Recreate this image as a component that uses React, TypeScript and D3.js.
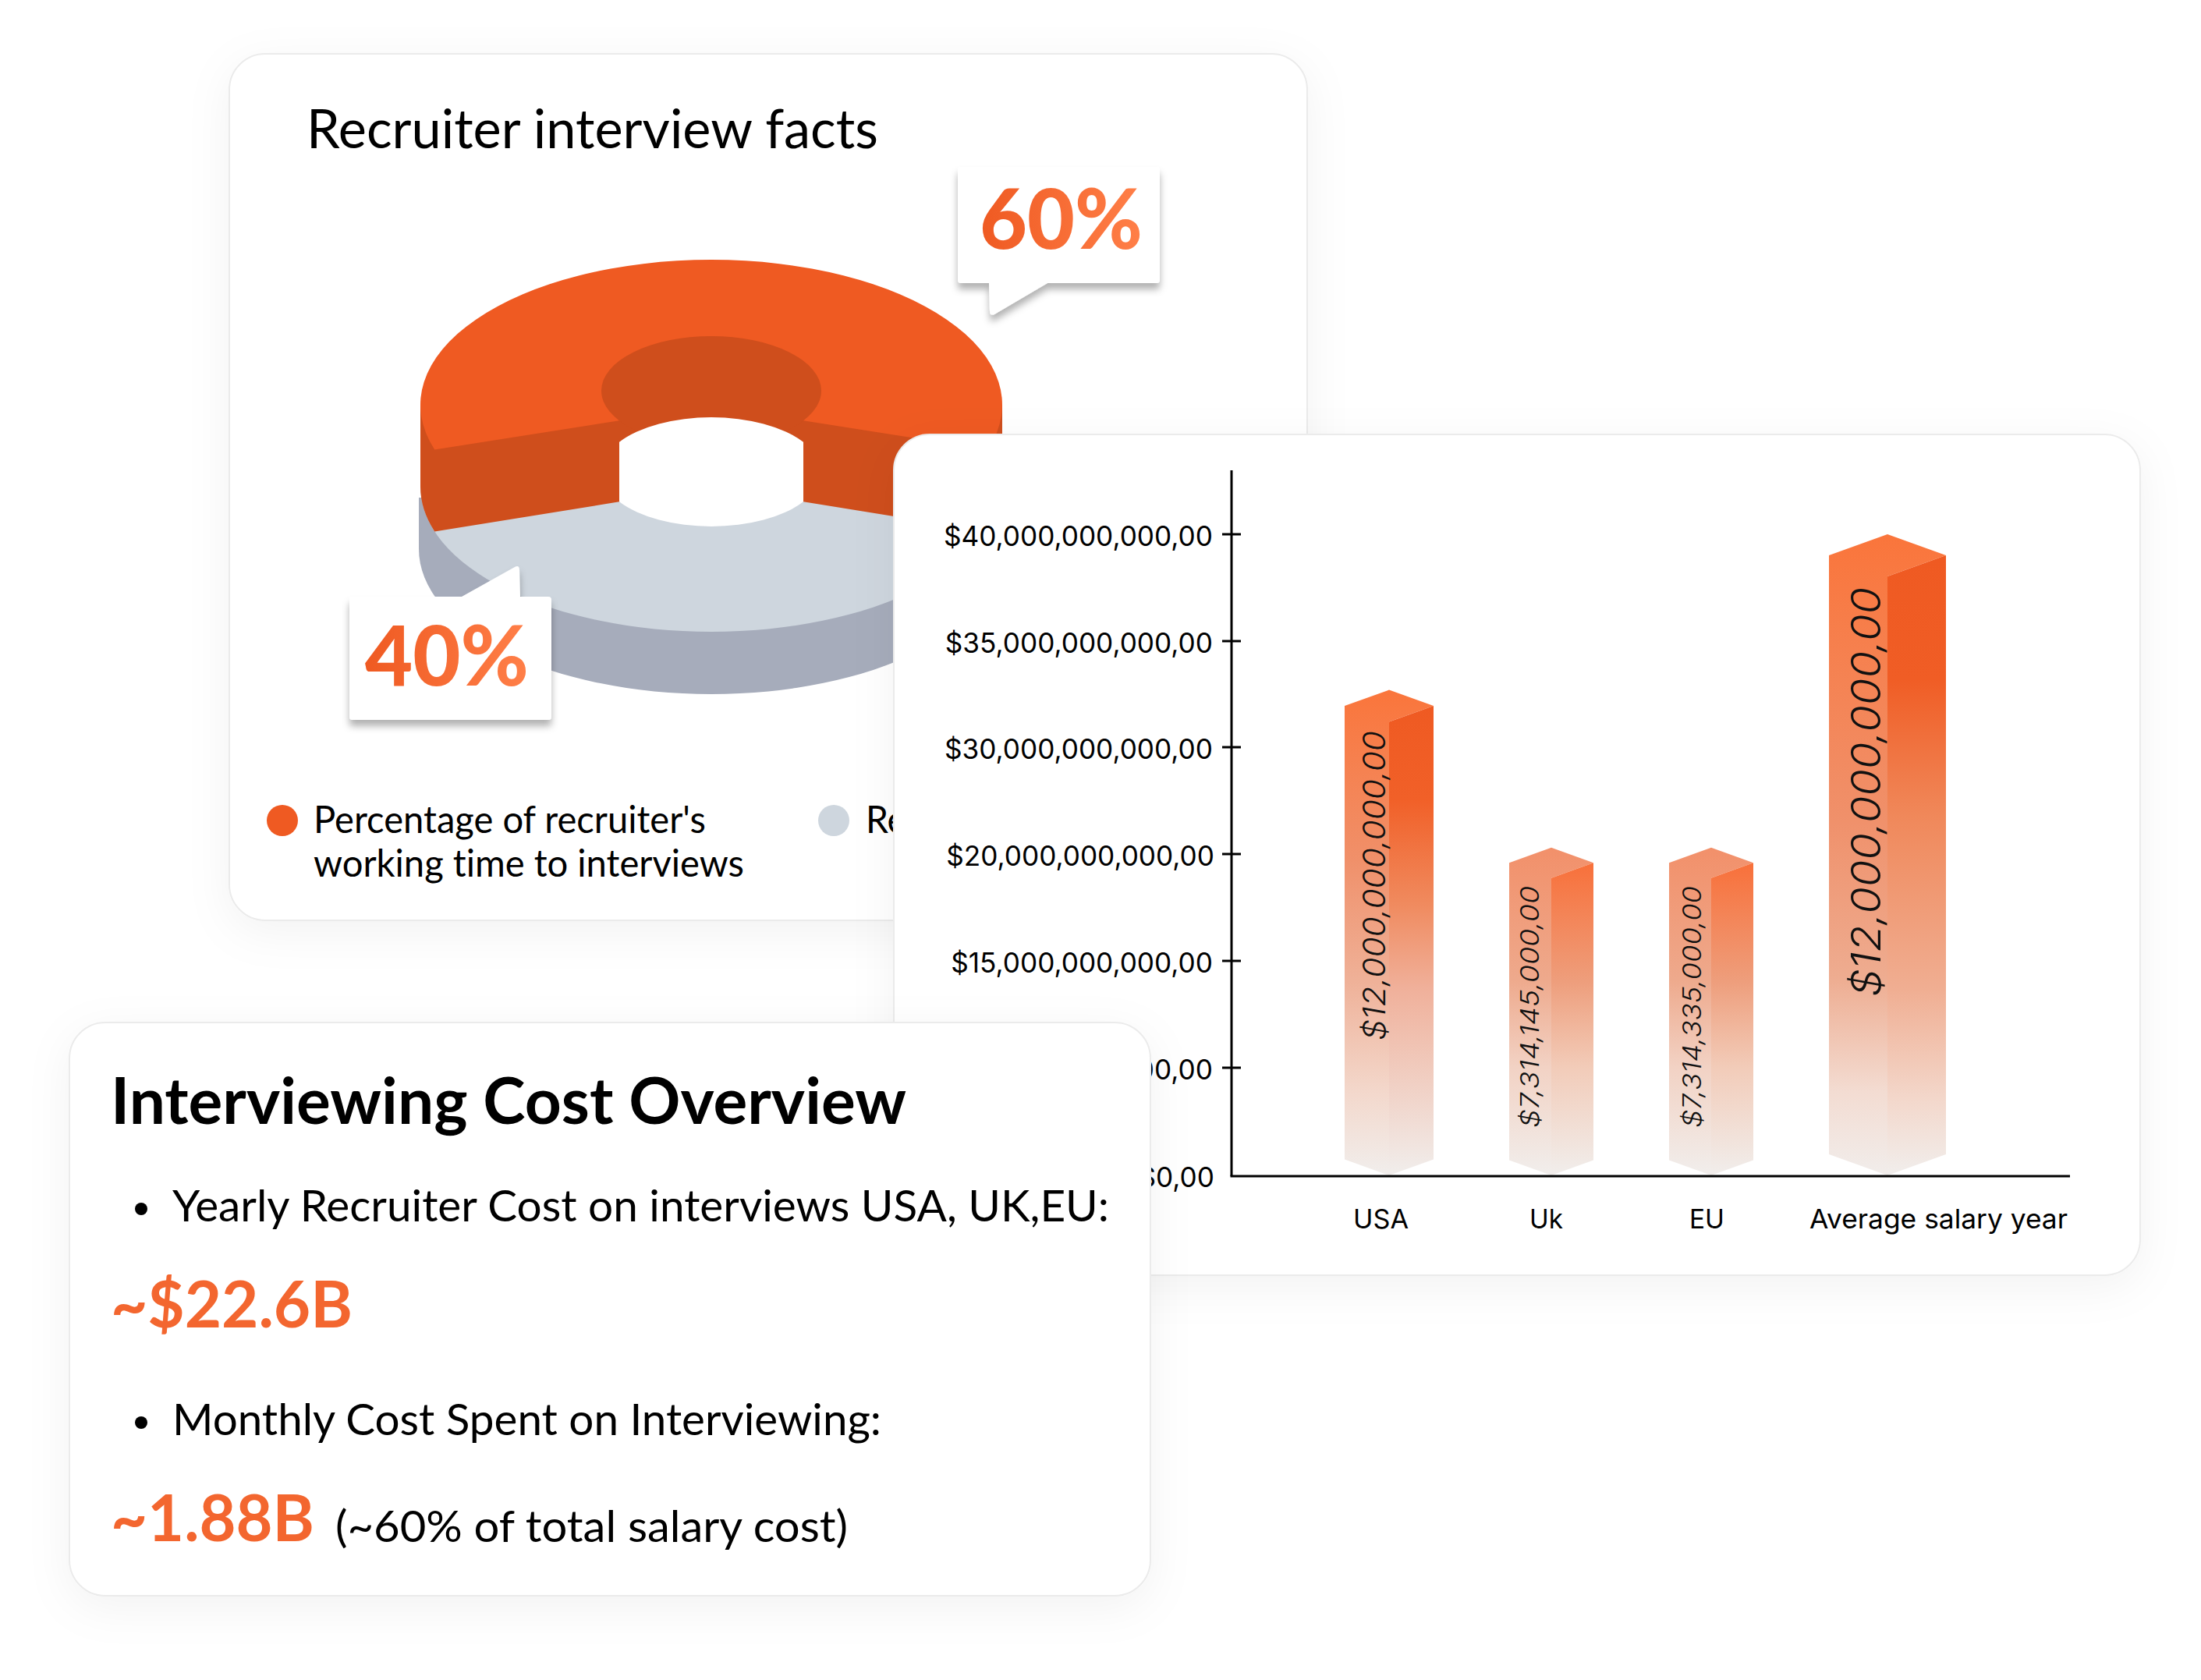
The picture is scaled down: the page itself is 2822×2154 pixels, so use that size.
import React from "react";
import * as d3 from "d3";

// ---- data ----
const shareLabels = ["60%", "40%"];
const shareValues = [60, 40];
const tickValues = [40, 35, 30, 20, 15, 10, 0];
const tickLabels = [
  "$40,000,000,000,00",
  "$35,000,000,000,00",
  "$30,000,000,000,00",
  "$20,000,000,000,00",
  "$15,000,000,000,00",
  "$10,000,000,000,00",
  "$0,00",
];
const categories = ["USA", "Uk", "EU", "Average salary year"];
const barValues = [32.7, 20.6, 20.6, 40];
const barLabels = [
  "$12,000,000,000,00",
  "$7,314,145,000,00",
  "$7,314,335,000,00",
  "$12,000,000,000,00",
];

// ---- layout and style ----
const W = 2822;
const H = 2154;
const ORANGE = "#ef5a22";
const ORANGE_DARK = "#cf4e1c";
const GRAY_TOP = "#ced6de";
const GRAY_SIDE = "#a6acbb";
const ACCENT = "#f3662f";
const BODY = "Lato, sans-serif";
const AXIS = "Inter, sans-serif";

const yScale = d3
  .scaleLinear()
  .domain([0, 10, 15, 20, 30, 35, 40])
  .range([1507, 1369, 1232, 1095, 958, 822, 685]);
const xCenter = d3.scaleOrdinal<string, number>().domain(categories).range([1781, 1989, 2194, 2420]);
const halfWidth = d3.scaleOrdinal<string, number>().domain(categories).range([57, 54, 54, 75]);
const xLabelSpan = d3
  .scaleOrdinal<string, number[]>()
  .domain(categories)
  .range([[1735, 1806], [1961, 2004], [2166, 2211], [2320, 2651]]);
const barLabelStyle = [
  { x: 1761, top: 937, bottom: 1334, size: 40 },
  { x: 1961, top: 1136, bottom: 1446, size: 33 },
  { x: 2169, top: 1136, bottom: 1446, size: 33 },
  { x: 2392, top: 753, bottom: 1278, size: 52 },
];
const leftStops = [
  [[0, "#fa753b"], [0.35, "#f0906a"], [0.6, "#efb198"], [0.83, "#f3d8cc"], [1, "#f1eeec"]],
  [[0, "#f2906a"], [0.4, "#eea98c"], [0.67, "#f2d2c4"], [1, "#f1eeec"]],
  [[0, "#f2906a"], [0.4, "#eea98c"], [0.67, "#f2d2c4"], [1, "#f1eeec"]],
  [[0, "#fa753b"], [0.44, "#f0906a"], [0.69, "#eeac90"], [0.87, "#f3dcd2"], [1, "#f1edeb"]],
];
const rightStops = [
  [[0, "#ef5a22"], [0.2, "#f16028"], [0.42, "#f08a5e"], [0.6, "#f0b09a"], [1, "#f1eeec"]],
  [[0, "#f8703a"], [0.38, "#ee9e7c"], [0.65, "#f2cbb8"], [1, "#f1eeec"]],
  [[0, "#f8703a"], [0.38, "#ee9e7c"], [0.65, "#f2cbb8"], [1, "#f1eeec"]],
  [[0, "#ef5a22"], [0.2, "#f05d25"], [0.42, "#f0885a"], [0.7, "#f0ae92"], [0.88, "#f3d8cc"], [1, "#f1eeec"]],
];

function T(p: any) {
  const { x0, x1, y, size, weight, fill, font, children } = p;
  return (
    <text
      x={x0}
      y={y}
      fontSize={size}
      fontWeight={weight ?? 400}
      fontFamily={font ?? BODY}
      fill={fill ?? "#000"}
      textLength={x1 - x0}
      lengthAdjust="spacingAndGlyphs"
      style={{ fontVariantLigatures: "none" }}
    >
      {children}
    </text>
  );
}

function Card({ x0, y0, x1, y1 }: { x0: number; y0: number; x1: number; y1: number }) {
  return (
    <rect
      x={x0}
      y={y0}
      width={x1 - x0}
      height={y1 - y0}
      rx={46}
      fill="#fff"
      stroke="#ebebeb"
      strokeWidth={2}
      filter="url(#cardShadow)"
    />
  );
}

// Donut drawn as stacked pseudo-3D layers
function Donut() {
  const cx = 912;
  const rx = 373;
  const ry = 186;
  const cyTop = 519;
  const drop = 105;
  const cyMid = cyTop + drop;
  const cyBase = cyMid + 80;
  const irx = 141;
  const iry = 70;
  const icyTop = 501;
  const icyMid = icyTop + 104;
  const holeHalf = 118;

  const arcs = d3
    .pie<number>()
    .sort(null)
    .startAngle((-108 * Math.PI) / 180)
    .endAngle((252 * Math.PI) / 180)(shareValues);
  const a0 = arcs[0].startAngle;
  const a1 = arcs[0].endAngle;
  const pt = (a: number, cy: number) => [cx + rx * Math.sin(a), cy - ry * Math.cos(a)];
  const [lx, ly] = pt(a0, cyTop);
  const [rxp, ryp] = pt(a1, cyTop);
  const [lbx, lby] = pt(a0, cyMid);
  const [rbx, rby] = pt(a1, cyMid);
  const shoulder = iry * Math.sqrt(1 - (holeHalf / irx) ** 2);
  const innerY = icyTop + shoulder;
  const holeTopY = icyMid - shoulder;
  const holeBotY = icyMid + shoulder;

  const surface = `M${lx},${ly} A${rx},${ry} 0 1 1 ${rxp},${ryp} L${cx + holeHalf},${innerY} L${cx - holeHalf},${innerY} Z`;
  const wall = `M${cx - rx},${cyTop} L${cx - rx},${cyMid} A${rx},${ry} 0 0 0 ${lbx},${lby} L${cx - holeHalf},${holeBotY} L${cx + holeHalf},${holeBotY} L${rbx},${rby} A${rx},${ry} 0 0 0 ${cx + rx},${cyMid} L${cx + rx},${cyTop} Z`;
  const hole = `M${cx - holeHalf},${holeTopY} A${irx},${iry} 0 0 1 ${cx + holeHalf},${holeTopY} L${cx + holeHalf},${holeBotY} A${irx},${iry} 0 0 1 ${cx - holeHalf},${holeBotY} Z`;

  return (
    <g>
      <rect x={cx - rx - 2} y={cyMid + 14} width={2 * rx + 4} height={cyBase - cyMid - 14} fill={GRAY_SIDE} />
      <ellipse cx={cx} cy={cyBase} rx={rx + 2} ry={ry} fill={GRAY_SIDE} />
      <ellipse cx={cx} cy={cyMid} rx={rx} ry={ry} fill={GRAY_TOP} />
      <path d={wall} fill={ORANGE_DARK} />
      <path d={surface} fill={ORANGE} />
      <ellipse cx={cx} cy={icyTop} rx={irx} ry={iry} fill={ORANGE_DARK} />
      <path d={hole} fill="#fff" />
    </g>
  );
}

function Bars() {
  const y0 = yScale(0);
  return (
    <g>
      {categories.map((c, i) => {
        const xm = xCenter(c);
        const hw = halfWidth(c);
        const apex = yScale(barValues[i]);
        const d = hw * 0.36;
        const l = `M${xm - hw},${apex + d} L${xm},${apex} L${xm + hw},${apex + d} L${xm},${apex + 2 * d} L${xm},${y0} L${xm - hw},${y0 - d} Z`;
        const r = `M${xm + hw},${apex + d} L${xm},${apex + 2 * d} L${xm},${y0} L${xm + hw},${y0 - d} Z`;
        return (
          <g key={c}>
            <defs>
              <linearGradient id={`bl${i}`} x1="0" x2="0" y1="0" y2="1">
                {leftStops[i].map((s: any, k) => (
                  <stop key={k} offset={s[0]} stopColor={s[1]} />
                ))}
              </linearGradient>
              <linearGradient id={`br${i}`} x1="0" x2="0" y1="0" y2="1">
                {rightStops[i].map((s: any, k) => (
                  <stop key={k} offset={s[0]} stopColor={s[1]} />
                ))}
              </linearGradient>
            </defs>
            <path d={l} fill={`url(#bl${i})`} />
            <path d={r} fill={`url(#br${i})`} />
          </g>
        );
      })}
      {barLabels.map((s, i) => {
        const st = barLabelStyle[i];
        return (
          <text
            key={i}
            transform={`translate(${st.x},${st.bottom}) rotate(-90)`}
            fontFamily={AXIS}
            fontStyle="italic"
            fontWeight={300}
            fontSize={st.size}
            fill="#111"
            dominantBaseline="central"
            textLength={st.bottom - st.top}
            lengthAdjust="spacingAndGlyphs"
          >
            {s}
          </text>
        );
      })}
    </g>
  );
}

function Axis() {
  const x = 1579;
  return (
    <g>
      {tickValues.map((v, i) => (
        <g key={v}>
          {v !== 0 && <line x1={x - 12} x2={x + 12} y1={yScale(v)} y2={yScale(v)} stroke="#000" strokeWidth={3} />}
          <text
            x={v === 20 || v === 0 ? 1557 : 1555}
            y={yScale(v) + 15}
            textAnchor="end"
            fontFamily={AXIS}
            fontSize={35.2}
            fill="#000"
          >
            {tickLabels[i]}
          </text>
        </g>
      ))}
      <line x1={x} x2={x} y1={603} y2={1508} stroke="#000" strokeWidth={3} />
      <line x1={x - 1.5} x2={2654} y1={1508} y2={1508} stroke="#000" strokeWidth={3} />
      {categories.map((c) => {
        const [a, b] = xLabelSpan(c);
        return (
          <T key={c} x0={a} x1={b} y={1575} size={34} font={AXIS}>
            {c}
          </T>
        );
      })}
    </g>
  );
}

function Callout({ d, label, x0, x1, y, grad }: any) {
  return (
    <g>
      <path d={d} fill="#fff" filter="url(#calloutShadow)" />
      <T x0={x0} x1={x1} y={y} size={106} weight={900} fill={`url(#${grad})`}>
        {label}
      </T>
    </g>
  );
}

export default function App() {
  return (
    <svg
      width={W}
      height={H}
      viewBox={`0 0 ${W} ${H}`}
      style={{ position: "absolute", left: 0, top: 0, background: "#fff" }}
    >
      <defs>
        <filter id="cardShadow" x="-15%" y="-15%" width="130%" height="130%">
          <feDropShadow dx="0" dy="14" stdDeviation="28" floodColor="#000" floodOpacity="0.05" />
        </filter>
        <filter id="calloutShadow" x="-20%" y="-20%" width="140%" height="150%">
          <feDropShadow dx="0" dy="8" stdDeviation="5" floodColor="#000" floodOpacity="0.3" />
        </filter>
        <linearGradient id="g60" gradientUnits="userSpaceOnUse" x1="1258" x2="1463" y1="0" y2="0">
          <stop offset="0" stopColor="#ef5a22" />
          <stop offset="1" stopColor="#ff7f48" />
        </linearGradient>
        <linearGradient id="g40" gradientUnits="userSpaceOnUse" x1="470" x2="676" y1="0" y2="0">
          <stop offset="0" stopColor="#ef5a22" />
          <stop offset="1" stopColor="#ff7f48" />
        </linearGradient>
      </defs>

      <Card x0={294} y0={69} x1={1676} y1={1180} />
      <T x0={393} x1={1126} y={190} size={70}>Recruiter interview facts</T>
      <Donut />
      <Callout
        d="M1232,214 L1483,214 Q1487,214 1487,218 L1487,359 Q1487,363 1483,363 L1343,363 L1275,403 Q1269,405 1269,399 L1268,363 L1232,363 Q1228,363 1228,359 L1228,218 Q1228,214 1232,214 Z"
        label={shareLabels[0]}
        x0={1256}
        x1={1465}
        y={319}
        grad="g60"
      />
      <Callout
        d="M452,765 L592,765 L660,727 Q666,724 666,731 L667,765 L703,765 Q707,765 707,769 L707,919 Q707,923 703,923 L452,923 Q448,923 448,919 L448,769 Q448,765 452,765 Z"
        label={shareLabels[1]}
        x0={468}
        x1={678}
        y={879}
        grad="g40"
      />
      <circle cx={362} cy={1052} r={20} fill={ORANGE} />
      <T x0={402} x1={905} y={1068} size={48}>Percentage of recruiter's</T>
      <T x0={402} x1={954} y={1124} size={48}>working time to interviews</T>
      <circle cx={1069} cy={1052} r={20} fill={GRAY_TOP} />
      <T x0={1110} x1={1162} y={1068} size={48}>Re</T>

      <Card x0={1146} y0={557} x1={2744} y1={1635} />
      <Bars />
      <Axis />

      <Card x0={89} y0={1311} x1={1475} y1={2046} />
      <T x0={142} x1={1162} y={1441} size={82} weight={700}>Interviewing Cost Overview</T>
      <circle cx={181} cy={1550} r={8} fill="#000" />
      <T x0={221} x1={1422} y={1566} size={56}>Yearly Recruiter Cost on interviews USA, UK,EU:</T>
      <T x0={142} x1={452} y={1702} size={82} weight={700} fill={ACCENT}>~$22.6B</T>
      <circle cx={181} cy={1824} r={8} fill="#000" />
      <T x0={221} x1={1130} y={1840} size={56}>Monthly Cost Spent on Interviewing:</T>
      <T x0={142} x1={403} y={1976} size={82} weight={700} fill={ACCENT}>~1.88B</T>
      <T x0={430} x1={1087} y={1977} size={56}>(~60% of total salary cost)</T>
    </svg>
  );
}
